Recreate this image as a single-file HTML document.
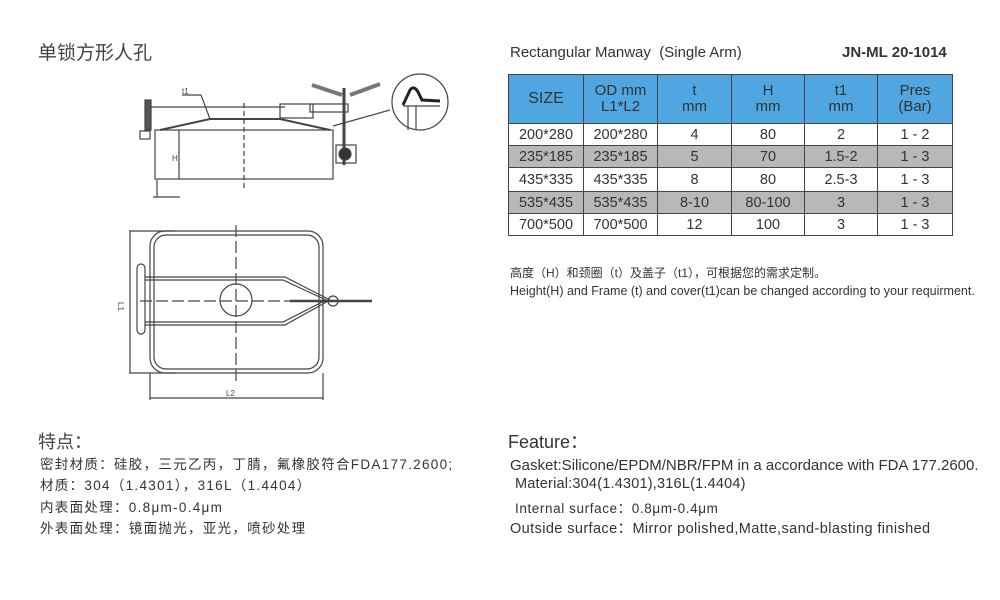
<!DOCTYPE html>
<html><head><meta charset="utf-8"><style>
body{margin:0;width:1000px;height:600px;background:#fff;position:relative;overflow:hidden;font-family:"Liberation Sans","Noto Sans CJK SC",sans-serif;color:#333}
.t{position:absolute;white-space:nowrap}
table{position:absolute;left:508px;top:74px;border-collapse:collapse;font-family:"Liberation Sans",sans-serif}
td{border:1px solid #444;text-align:center;padding:0;font-size:14.5px;color:#333}
tr.h td{background:#4fa6e0;color:#333;font-size:15px;line-height:16px;height:48px}
tr.r td{height:21px}
tr.g td{background:#b8b8b8}
.cn{font-size:13.5px;letter-spacing:1.3px}
</style></head><body>
<div class="t" style="left:38px;top:38px;font-size:19px;color:#444">单锁方形人孔</div>
<div class="t" style="left:510px;top:44px;font-size:15px">Rectangular Manway&nbsp;&nbsp;(Single Arm)</div>
<div class="t" style="left:842px;top:44px;font-size:15px;font-weight:bold">JN-ML 20-1014</div>
<table>
<colgroup><col style="width:75px"><col style="width:74px"><col style="width:74px"><col style="width:73px"><col style="width:73px"><col style="width:75px"></colgroup>
<tr class="h"><td style="font-size:16px">SIZE</td><td>OD mm<br>L1*L2</td><td>t<br>mm</td><td>H<br>mm</td><td>t1<br>mm</td><td>Pres<br>(Bar)</td></tr>
<tr class="r"><td>200*280</td><td>200*280</td><td>4</td><td>80</td><td>2</td><td>1 - 2</td></tr>
<tr class="r g"><td>235*185</td><td>235*185</td><td>5</td><td>70</td><td>1.5-2</td><td>1 - 3</td></tr>
<tr class="r" style="height:24px"><td>435*335</td><td>435*335</td><td>8</td><td>80</td><td>2.5-3</td><td>1 - 3</td></tr>
<tr class="r g"><td>535*435</td><td>535*435</td><td>8-10</td><td>80-100</td><td>3</td><td>1 - 3</td></tr>
<tr class="r"><td>700*500</td><td>700*500</td><td>12</td><td>100</td><td>3</td><td>1 - 3</td></tr>
</table>
<div class="t" style="left:510px;top:264px;font-size:12px">高度（H）和颈圈（t）及盖子（t1），可根据您的需求定制。</div>
<div class="t" style="left:510px;top:284px;font-size:12.5px">Height(H) and Frame (t) and cover(t1)can be changed according to your requirment.</div>
<div class="t" style="left:38px;top:428px;font-size:18px;color:#444">特点：</div>
<div class="t cn" style="left:40px;top:453px">密封材质：硅胶，三元乙丙，丁腈，氟橡胶符合FDA177.2600;</div>
<div class="t cn" style="left:40px;top:474px">材质：304（1.4301），316L（1.4404）</div>
<div class="t cn" style="left:40px;top:496px">内表面处理：0.8μm-0.4μm</div>
<div class="t cn" style="left:40px;top:517px">外表面处理：镜面抛光，亚光，喷砂处理</div>
<div class="t" style="left:508px;top:428px;font-size:18px">Feature：</div>
<div class="t" style="left:510px;top:457px;font-size:15px">Gasket:Silicone/EPDM/NBR/FPM in a accordance with FDA 177.2600.</div>
<div class="t" style="left:515px;top:476px;font-size:14.5px;letter-spacing:0.2px">Material:304(1.4301),316L(1.4404)</div>
<div class="t" style="left:515px;top:497px;font-size:13.5px;letter-spacing:0.6px">Internal surface：0.8μm-0.4μm</div>
<div class="t" style="left:510px;top:517px;font-size:14.5px;letter-spacing:0.4px">Outside surface：Mirror polished,Matte,sand-blasting finished</div>
<svg width="1000" height="600" style="position:absolute;left:0;top:0" fill="none" stroke="#444" stroke-width="1.2">
<rect x="155" y="130" width="178" height="49"/>
<line x1="179" y1="130" x2="179" y2="179"/>
<text x="172" y="161" font-size="8" fill="#444" stroke="none">H</text>
<line x1="244" y1="103" x2="244" y2="190" stroke-dasharray="5,3"/>
<polyline points="160,130 210,119 280,119 330,130" stroke-width="2"/>
<line x1="150" y1="107" x2="285" y2="107"/>
<line x1="210" y1="119" x2="201" y2="95"/><line x1="182" y1="95" x2="201" y2="95"/>
<text x="182" y="94" font-size="8" fill="#444" stroke="none">t1</text>
<rect x="280" y="104" width="33" height="14"/><rect x="310" y="104" width="38" height="8"/>
<rect x="145" y="100" width="6" height="30" fill="#555"/>
<rect x="140" y="131" width="10" height="8"/>
<line x1="344" y1="88" x2="344" y2="165" stroke-width="3"/>
<circle cx="345" cy="154" r="6" fill="#333"/>
<rect x="336" y="145" width="20" height="18"/>
<line x1="312" y1="85" x2="342" y2="95" stroke-width="4" stroke="#777"/>
<line x1="380" y1="84" x2="350" y2="95" stroke-width="4" stroke="#777"/>
<line x1="157" y1="180" x2="157" y2="197"/><line x1="153" y1="197" x2="180" y2="197"/>
<line x1="333" y1="126" x2="390" y2="110"/>
<circle cx="420" cy="102" r="28"/>
<path d="M403,105 L410,90 Q414,85 418,92 L422,100 L440,101" stroke-width="3" stroke="#222"/>
<line x1="408" y1="106" x2="408" y2="130"/><line x1="416" y1="106" x2="416" y2="130"/>
<line x1="403" y1="106" x2="440" y2="106"/>
<rect x="150" y="231" width="173" height="142" rx="15"/>
<rect x="154" y="235" width="165" height="134" rx="12"/>
<line x1="129" y1="231" x2="175" y2="231"/><line x1="129" y1="373" x2="175" y2="373"/>
<line x1="130" y1="231" x2="130" y2="373"/>
<text x="118" y="310" font-size="8" fill="#444" stroke="none" transform="rotate(90 122 306)">L1</text>
<line x1="150" y1="373" x2="150" y2="400"/><line x1="323" y1="373" x2="323" y2="400"/>
<line x1="150" y1="398" x2="323" y2="398"/>
<text x="226" y="396" font-size="8" fill="#444" stroke="none">L2</text>
<line x1="236" y1="225" x2="236" y2="385" stroke-dasharray="12,4"/>
<line x1="140" y1="301" x2="330" y2="301" stroke-dasharray="12,4"/>
<circle cx="236" cy="300" r="16"/>
<polyline points="145,277 285,277 330,300 285,325 145,325"/>
<polyline points="145,280 283,280 326,300 283,322 145,322"/>
<rect x="137" y="264" width="8" height="70" rx="4"/>
<line x1="290" y1="301" x2="372" y2="301" stroke-width="2.5"/>
<circle cx="333" cy="301" r="5"/>
</svg>
</body></html>
